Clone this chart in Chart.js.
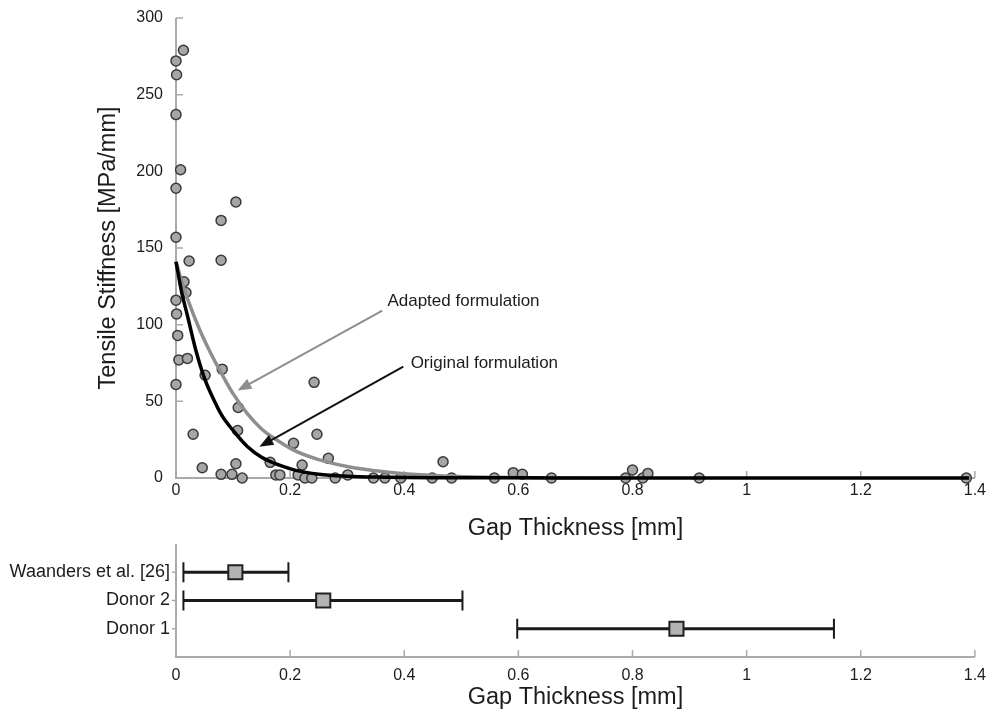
<!DOCTYPE html>
<html>
<head>
<meta charset="utf-8">
<script src="https://cdn.jsdelivr.net/npm/chart.js@4.4.0/dist/chart.umd.min.js"></script>
<style>
    body { margin: 0; background: #fff; overflow: hidden; }
    #arriba { position: absolute; left: 0; top: -5px; width: 989px; height: 553px; }
    #abajo { position: absolute; left: 0; top: 527px; width: 989px; height: 189px; }
</style>
</head>
<body>
<div id="arriba"><canvas id="graficoPuntos"></canvas></div>
<div id="abajo"><canvas id="graficoRangos"></canvas></div>
<script>
// puntos medidos (gap thickness mm / tensile stiffness MPa/mm)
const gapX = [0.013, 0, 0.001, 0, 0.008, 0, 0.105, 0.079, 0, 0.023, 0.079, 0.014, 0.0175, 0, 0.001,
    0.003, 0.005, 0.02, 0.081, 0.051, 0, 0.109, 0.108, 0.03, 0.046, 0.105, 0.079, 0.098, 0.116,
    0.242, 0.247, 0.206, 0.267, 0.165, 0.221, 0.175, 0.182, 0.214, 0.226, 0.238, 0.279, 0.301,
    0.468, 0.346, 0.366, 0.394, 0.449, 0.483, 0.558, 0.591, 0.607, 0.658, 0.788, 0.8, 0.818,
    0.827, 0.917, 1.385];
const stiffY = [279, 272, 263, 237, 201, 189, 180, 168, 157, 141.5, 142, 128, 121, 116, 107,
    93, 77, 78, 71, 67, 61, 46, 31, 28.5, 6.7, 9.3, 2.4, 2.4, 0,
    62.4, 28.5, 22.6, 12.8, 10.2, 8.5, 2, 2, 2, 0, 0, 0, 2,
    10.6, 0, 0, 0, 0, 0, 0, 3.5, 2.4, 0, 0, 5.2, 0,
    3, 0, 0];

// curvas
const origX = [0, 0.01, 0.02, 0.035, 0.05, 0.065, 0.08, 0.1, 0.125, 0.15, 0.18, 0.21, 0.25, 0.3, 0.35, 0.45, 0.6, 0.8, 1.0, 1.2, 1.39];
const origY = [141, 121, 106, 83, 65, 52, 41, 31, 20.5, 13.5, 8.5, 5, 2.5, 1.2, 0.6, 0.2, 0.1, 0, 0, 0, 0];
const adaptX = [0, 0.01, 0.02, 0.04, 0.06, 0.08, 0.1, 0.125, 0.15, 0.18, 0.21, 0.25, 0.3, 0.35, 0.4, 0.47, 0.55, 0.65, 0.8];
const adaptY = [141, 128, 117, 98, 82, 68, 55, 42, 32, 24, 17.5, 12, 7.5, 4.7, 2.7, 1.3, 0.5, 0.2, 0];

const xTicks = [0, 0.2, 0.4, 0.6, 0.8, 1, 1.2, 1.4];
const yTicks = [0, 50, 100, 150, 200, 250, 300];

// rangos de la parte de abajo
const grupos = ['Donor 1', 'Donor 2', 'Waanders et al. [26]'];
const grupoMedia = [0.877, 0.258, 0.104];
const grupoMin = [0.598, 0.013, 0.013];
const grupoMax = [1.153, 0.502, 0.197];

// flechas y textos
const notas = [
    { texto: 'Adapted formulation', tx: 0.3705, ty: 115.5, x1: 0.3615, y1: 109.1, x2: 0.1078, y2: 57, color: '#8e8e8e' },
    { texto: 'Original formulation', tx: 0.4112, ty: 74.8, x1: 0.3983, y1: 72.6, x2: 0.146, y2: 20.4, color: '#111' }
];

Chart.defaults.font.family = '"Liberation Sans", Arial, sans-serif';
Chart.defaults.color = '#1c1c1c';

const GRIS_EJE = '#a9a9a9';

function fmtX(v) { return String(parseFloat(Number(v).toFixed(1))); }

// ejes con marcas hacia adentro
const ejesPlugin = {
    id: 'ejes',
    beforeDatasetsDraw(chart, args, opts) {
        const { ctx, scales: { x, y } } = chart;
        ctx.save();
        ctx.strokeStyle = GRIS_EJE;
        ctx.lineWidth = 2;
        ctx.beginPath();
        ctx.moveTo(x.left, y.top);
        ctx.lineTo(x.left, y.bottom);
        ctx.lineTo(x.right, y.bottom);
        ctx.stroke();
        ctx.lineWidth = 1.5;
        ctx.beginPath();
        opts.xMarcas.forEach(v => {
            if (v === 0) return;
            const px = x.getPixelForValue(v);
            ctx.moveTo(px, y.bottom);
            ctx.lineTo(px, y.bottom - 7);
        });
        (opts.yMarcas || []).forEach(v => {
            if (v === 0) return;
            const py = y.getPixelForValue(v);
            ctx.moveTo(x.left, py);
            ctx.lineTo(x.left + opts.yLargo, py);
        });
        ctx.stroke();
        ctx.restore();
    }
};

const notasPlugin = {
    id: 'notas',
    afterDatasetsDraw(chart) {
        const { ctx, scales: { x, y } } = chart;
        ctx.save();
        notas.forEach(n => {
            const ax = x.getPixelForValue(n.x1), ay = y.getPixelForValue(n.y1);
            const bx = x.getPixelForValue(n.x2), by = y.getPixelForValue(n.y2);
            const ang = Math.atan2(by - ay, bx - ax);
            const largo = 14, ancho = 5.5;
            ctx.strokeStyle = n.color;
            ctx.fillStyle = n.color;
            ctx.lineWidth = 2;
            ctx.beginPath();
            ctx.moveTo(ax, ay);
            ctx.lineTo(bx - Math.cos(ang) * largo * 0.8, by - Math.sin(ang) * largo * 0.8);
            ctx.stroke();
            ctx.beginPath();
            ctx.moveTo(bx, by);
            ctx.lineTo(bx - Math.cos(ang) * largo - Math.sin(ang) * ancho, by - Math.sin(ang) * largo + Math.cos(ang) * ancho);
            ctx.lineTo(bx - Math.cos(ang) * largo + Math.sin(ang) * ancho, by - Math.sin(ang) * largo - Math.cos(ang) * ancho);
            ctx.closePath();
            ctx.fill();
            ctx.fillStyle = '#1c1c1c';
            ctx.font = '17px "Liberation Sans", Arial, sans-serif';
            ctx.textAlign = 'left';
            ctx.textBaseline = 'middle';
            ctx.fillText(n.texto, x.getPixelForValue(n.tx), y.getPixelForValue(n.ty));
        });
        ctx.restore();
    }
};

const barrasPlugin = {
    id: 'barras',
    beforeDatasetsDraw(chart) {
        const { ctx, scales: { x, y } } = chart;
        ctx.save();
        grupos.forEach((g, i) => {
            const py = y.getPixelForValue(i + 1);
            const a = x.getPixelForValue(grupoMin[i]);
            const b = x.getPixelForValue(grupoMax[i]);
            ctx.strokeStyle = '#1a1a1a';
            ctx.lineWidth = 3;
            ctx.beginPath();
            ctx.moveTo(a, py);
            ctx.lineTo(b, py);
            ctx.stroke();
            ctx.lineWidth = 2;
            ctx.beginPath();
            ctx.moveTo(a, py - 10); ctx.lineTo(a, py + 10);
            ctx.moveTo(b, py - 10); ctx.lineTo(b, py + 10);
            ctx.stroke();
            // marca pequeña del eje y
            ctx.strokeStyle = GRIS_EJE;
            ctx.lineWidth = 1.5;
            ctx.beginPath();
            ctx.moveTo(x.left - 4, py); ctx.lineTo(x.left, py);
            ctx.stroke();
        });
        ctx.restore();
    }
};

// grafico de arriba
const ctxPuntos = document.getElementById('graficoPuntos').getContext('2d');
new Chart(ctxPuntos, {
    type: 'scatter',
    data: {
        datasets: [{
            label: 'Original formulation',
            data: origX.map((v, i) => ({ x: v, y: origY[i] })),
            showLine: true,
            borderColor: '#000',
            borderWidth: 3.5,
            pointRadius: 0,
            cubicInterpolationMode: 'monotone',
            clip: false,
            order: 1
        }, {
            label: 'Adapted formulation',
            data: adaptX.map((v, i) => ({ x: v, y: adaptY[i] })),
            showLine: true,
            borderColor: '#8e8e8e',
            borderWidth: 3.5,
            pointRadius: 0,
            cubicInterpolationMode: 'monotone',
            clip: false,
            order: 2
        }, {
            label: 'Medidas',
            data: gapX.map((v, i) => ({ x: v, y: stiffY[i] })),
            pointRadius: 5,
            pointBackgroundColor: '#a6a6a6',
            pointBorderColor: '#3a3a3a',
            pointBorderWidth: 1.5,
            clip: false,
            order: 3
        }]
    },
    options: {
        responsive: true,
        maintainAspectRatio: false,
        animation: false,
        layout: { padding: { top: 23, right: 14, left: 0, bottom: 0 } },
        plugins: {
            legend: { display: false },
            tooltip: { enabled: false },
            ejes: { xMarcas: xTicks, yMarcas: yTicks, yLargo: 7 }
        },
        scales: {
            x: {
                type: 'linear',
                min: 0,
                max: 1.4,
                afterBuildTicks: s => { s.ticks = xTicks.map(v => ({ value: v })); },
                afterFit: s => { s.height = 70; },
                grid: { display: false, drawTicks: false },
                border: { display: false },
                ticks: { font: { size: 16 }, padding: 3, callback: v => fmtX(v), maxRotation: 0 },
                title: { display: true, text: 'Gap Thickness [mm]', font: { size: 23.5 }, padding: { bottom: 5 } }
            },
            y: {
                min: 0,
                max: 300,
                afterBuildTicks: s => { s.ticks = yTicks.map(v => ({ value: v })); },
                afterFit: s => { s.width = 176; },
                grid: { display: false, drawTicks: false },
                border: { display: false },
                ticks: { font: { size: 16 }, padding: 13 },
                title: { display: true, text: 'Tensile Stiffness [MPa/mm]', font: { size: 23.5 }, padding: { top: 94 } }
            }
        }
    },
    plugins: [ejesPlugin, notasPlugin]
});

// grafico de abajo
const ctxRangos = document.getElementById('graficoRangos').getContext('2d');
new Chart(ctxRangos, {
    type: 'scatter',
    data: {
        datasets: [{
            label: 'Media',
            data: grupoMedia.map((v, i) => ({ x: v, y: i + 1 })),
            pointStyle: 'rect',
            pointRadius: 10,
            pointBackgroundColor: '#b3b3b3',
            pointBorderColor: '#222',
            pointBorderWidth: 2,
            clip: false
        }]
    },
    options: {
        responsive: true,
        maintainAspectRatio: false,
        animation: false,
        layout: { padding: { top: 17, right: 14, left: 0, bottom: 0 } },
        plugins: {
            legend: { display: false },
            tooltip: { enabled: false },
            ejes: { xMarcas: xTicks, yMarcas: [], yLargo: 0 }
        },
        scales: {
            x: {
                type: 'linear',
                min: 0,
                max: 1.4,
                afterBuildTicks: s => { s.ticks = xTicks.map(v => ({ value: v })); },
                afterFit: s => { s.height = 59; },
                grid: { display: false, drawTicks: false },
                border: { display: false },
                ticks: { font: { size: 16, lineHeight: 2 }, padding: 3, callback: v => fmtX(v), maxRotation: 0 },
                title: { display: true, text: 'Gap Thickness [mm]', font: { size: 23.5 }, padding: { bottom: 4 } }
            },
            y: {
                min: 0,
                max: 4,
                afterBuildTicks: s => { s.ticks = [1, 2, 3].map(v => ({ value: v })); },
                afterFit: s => { s.width = 176; },
                grid: { display: false, drawTicks: false },
                border: { display: false },
                ticks: { font: { size: 18 }, padding: 6, callback: v => grupos[v - 1] }
            }
        }
    },
    plugins: [ejesPlugin, barrasPlugin]
});
</script>
</body>
</html>
